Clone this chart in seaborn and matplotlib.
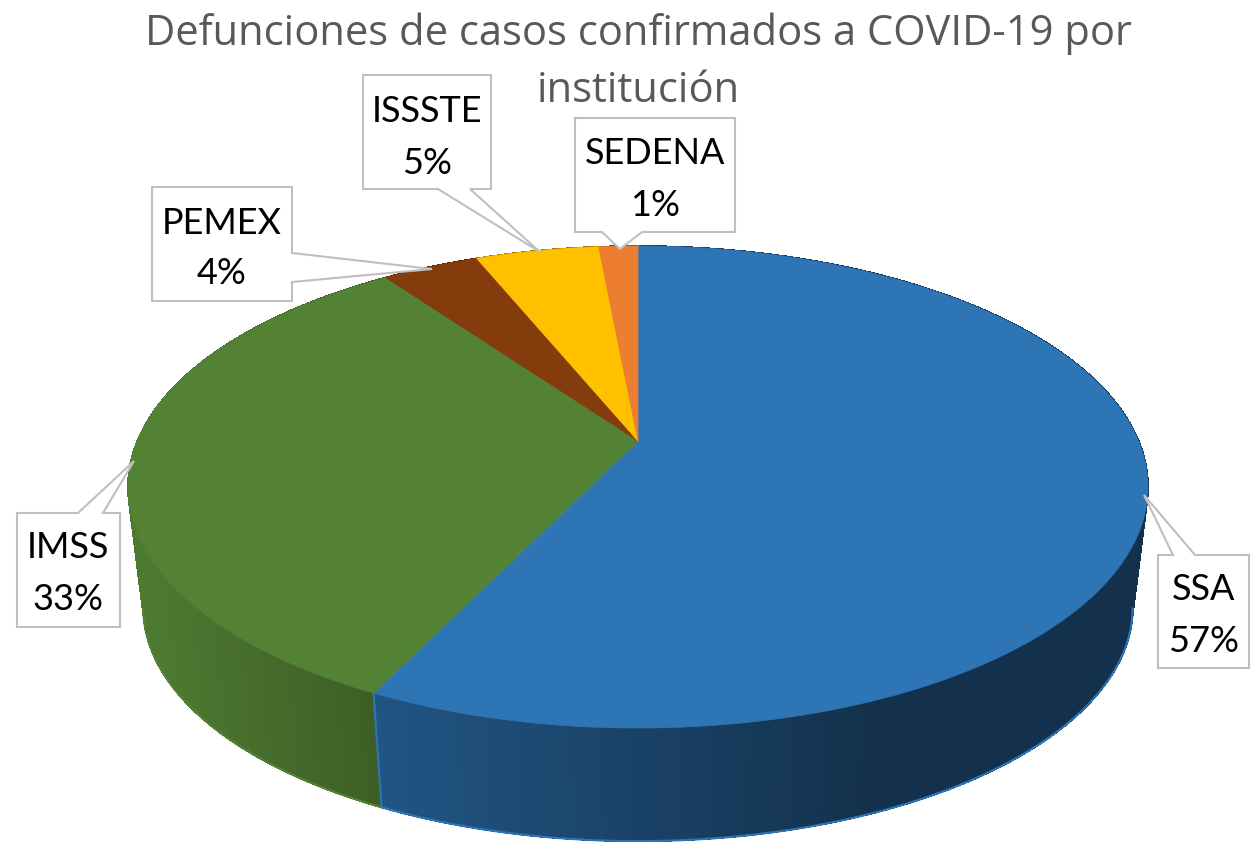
#!/usr/bin/env python3
import numpy as np
import seaborn as sns
import matplotlib.pyplot as plt

institutions = ['SSA', 'IMSS', 'PEMEX', 'ISSSTE', 'SEDENA']
shares = [57.2, 32.9, 3.7, 4.7, 1.49]
colors = ['#2E75B6', '#548235', '#843C0C', '#FFC000', '#ED7D31']
title_lines = ['Defunciones de casos confirmados a COVID-19 por', 'institución']

# callout geometry in pixels: box, pointer, text centre
boxes = {
    'SSA': (1158, 555, 1249, 668),
    'IMSS': (17, 513, 120, 627),
    'PEMEX': (152, 187, 292, 301),
    'ISSSTE': (363, 75, 491, 189),
    'SEDENA': (575, 118, 735, 232),
}
pointers = {
    'SSA': ('top', 1173, 1195, 1144, 495),
    'IMSS': ('top', 78, 103, 134, 461),
    'PEMEX': ('right', 253, 282, 432, 269),
    'ISSSTE': ('bottom', 438, 470, 540, 252),
    'SEDENA': ('bottom', 602, 642, 620, 249),
}
text_pos = {
    'SSA': (1204, 590, 642),
    'IMSS': (68, 548, 599),
    'PEMEX': (222, 223, 274),
    'ISSSTE': (427, 112, 164),
    'SEDENA': (655, 153, 205),
}

K = 0.191


def project(theta, lower=False):
    # perspective view of the pie disc, top face or bottom rim
    u, v = np.sin(theta), np.cos(theta)
    w = 1 + K * v
    if lower:
        return 638 + 485.6 * u / w, 563 - 225 * v / w
    return 638 + 500.6 * u / w, 441 - 232.2 * v / w


def shade(color, x):
    # front wall gets darker going right, then stays flat
    f = np.interp(x, [150, 380, 870], [0.93, 0.72, 0.42])
    return tuple(c * f for c in color)


def draw_callout(ax, name):
    x0, y0, x1, y1 = boxes[name]
    side, a, b, tx, ty = pointers[name]
    if side == 'top':
        pts = [(x0, y0), (a, y0), (tx, ty), (b, y0), (x1, y0), (x1, y1), (x0, y1)]
    elif side == 'bottom':
        pts = [(x0, y0), (x1, y0), (x1, y1), (b, y1), (tx, ty), (a, y1), (x0, y1)]
    else:
        pts = [(x0, y0), (x1, y0), (x1, a), (tx, ty), (x1, b), (x1, y1), (x0, y1)]
    xs, ys = zip(*pts)
    ax.fill(xs, ys, facecolor='white', edgecolor='#BFBFBF', linewidth=1.5, zorder=5)


def main():
    sns.set_theme(style='white')
    plt.rcParams['font.family'] = ['Lato', 'DejaVu Sans']
    palette = sns.color_palette(colors)

    fig, ax = plt.subplots(figsize=(12.51, 8.42), dpi=100)
    ax.set_position([0, 0, 1, 1])
    ax.set_xlim(0, 1251)
    ax.set_ylim(842, 0)
    ax.axis('off')

    edges = 2 * np.pi * np.cumsum([0] + shares) / sum(shares)

    # walls first, the top face hides whatever is behind
    for i, col in enumerate(palette):
        th = np.linspace(edges[i], edges[i + 1], max(int(shares[i] * 8), 8))
        for a, b in zip(th[:-1], th[1:]):
            xa, ya = project(a)
            xb, yb = project(b)
            xc, yc = project(b, lower=True)
            xd, yd = project(a, lower=True)
            c = shade(col, (xa + xb) / 2)
            ax.fill([xa, xb, xc, xd], [ya, yb, yc, yd], facecolor=c, edgecolor=c,
                    linewidth=0.6, antialiased=False, zorder=1)
        # only the front part of the rim shows
        front = np.cos(th) < -K
        lx, ly = project(th[front], lower=True)
        ax.plot(lx, ly, color=col, linewidth=1.5, zorder=2)
        ux, uy = project(th[-1])
        ex, ey = project(th[-1], lower=True)
        ax.plot([ux, ex], [uy, ey], color=col, linewidth=1.5, zorder=2)

    for i, col in enumerate(palette):
        th = np.linspace(edges[i], edges[i + 1], max(int(shares[i] * 8), 8))
        x, y = project(th)
        ax.fill(np.r_[638, x], np.r_[441, y], facecolor=col, edgecolor=col, linewidth=0.5, zorder=3)

    for name, share in zip(institutions, shares):
        draw_callout(ax, name)
        cx, y1, y2 = text_pos[name]
        ax.text(cx, y1, name, ha='center', va='center', fontsize=26, color='black', zorder=6)
        ax.text(cx, y2, f'{share:.0f}%', ha='center', va='center', fontsize=26, color='black', zorder=6)

    ax.text(638, 34, title_lines[0], ha='center', va='center', fontsize=30,
            color='#595959', family='Open Sans', zorder=6)
    ax.text(638, 91, title_lines[1], ha='center', va='center', fontsize=30,
            color='#595959', family='Open Sans', zorder=6)

    fig.savefig('out.png', dpi=100)
    plt.close(fig)


if __name__ == "__main__":
    main()
